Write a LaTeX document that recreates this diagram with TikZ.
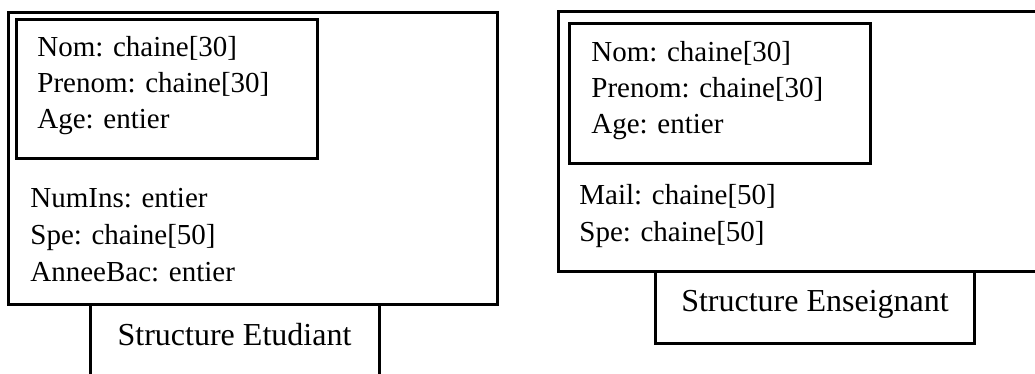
\documentclass[tikz,border=0pt]{standalone}
\usepackage{fontspec}
\setmainfont{Liberation Serif}
\usetikzlibrary{positioning}

\begin{document}
\begin{tikzpicture}[x=0.5pt, y=-0.5pt,
        cadre/.style={line width=1.5pt},
        champ/.style={anchor=base west, inner sep=0pt, font=\fontsize{14.5}{17}\selectfont},
        titre/.style={anchor=base, inner sep=0pt, font=\fontsize{16}{19}\selectfont}]
    \clip (0,0) rectangle (1035,374);
    % structure etudiant
    \draw[cadre] (8.3,12.8) rectangle (497,305);
    \draw[cadre] (16.3,19.5) rectangle (317,158.7);
    \draw[cadre] (90,390) -- (90,305) -- (379,305) -- (379,390);
    \foreach \txt [count=\i] in {{Nom: chaine[30]}, {Prenom: chaine[30]}, {Age: entier}}
        \node[champ] (etu-id-\i) at (37, 21+36*\i) {\txt};
    \foreach \txt [count=\i] in {{NumIns: entier}, {Spe: chaine[50]}, {AnneeBac: entier}}
        \node[champ] (etu-\i) at (30, 171+37*\i) {\txt};
    \node[titre] (etu-titre) at (234.5,345) {Structure Etudiant};
    % structure enseignant
    \draw[cadre] (558,11.2) rectangle (1060,272);
    \draw[cadre] (569.5,23.7) rectangle (870.5,163.5);
    \draw[cadre] (655.5,272) rectangle (974.5,343);
    \foreach \txt [count=\i] in {{Nom: chaine[30]}, {Prenom: chaine[30]}, {Age: entier}}
        \node[champ] (ens-id-\i) at (591, 26+36*\i) {\txt};
    \foreach \txt [count=\i] in {{Mail: chaine[50]}, {Spe: chaine[50]}}
        \node[champ] (ens-\i) at (579, 168+37*\i) {\txt};
    \node[titre] (ens-titre) at (815,312) {Structure Enseignant};
\end{tikzpicture}
\end{document}
